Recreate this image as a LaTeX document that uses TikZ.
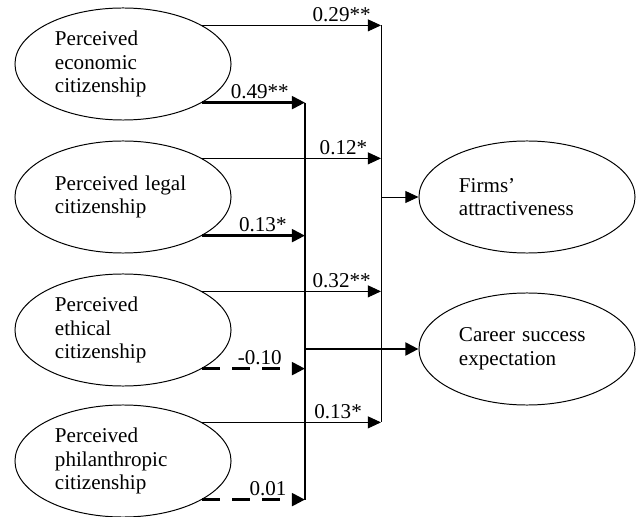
\documentclass[tikz,border=0pt]{standalone}
\usepackage{fontspec}
\setmainfont{Liberation Serif}
\usepackage{tikz}
\usetikzlibrary{shapes.geometric,arrows.meta}

\tikzset{
  construct/.style={draw, ellipse, line width=0.7pt, minimum width=5.4cm, minimum height=2.8cm,
    inner sep=0pt, text width=3.4cm, align=left, font=\fontsize{15}{16.8}\selectfont},
  coef/.style={anchor=base, inner sep=0pt, yshift=0.1cm, font=\fontsize{15}{16.7}\selectfont},
  thinarr/.style={line width=0.7pt, -{Triangle[length=0.33cm, width=0.3cm]}},
  thickarr/.style={line width=2.1pt, -{Triangle[length=0.33cm, width=0.32cm]}},
  negarr/.style={thickarr, dash pattern=on 0.45cm off 0.3cm},
}

\begin{document}
\begin{tikzpicture}[x=0.025cm, y=-0.025cm]
  \useasboundingbox (0,0) rectangle (636,517);

  % Perceived citizenship dimensions
  \node[construct] (eco) at (123,64) {Perceived\\economic\\citizenship};
  \node[construct] (leg) at (123,197) {Perceived legal\\citizenship};
  \node[construct] (eth) at (123,330) {Perceived\\ethical\\citizenship};
  \node[construct] (phi) at (123,461) {Perceived\\philanthropic\\citizenship};

  % Outcomes
  \node[construct] (firms) at (527,197) {Firms'\\attractiveness};
  \node[construct] (career) at (527,349) {Career success\\expectation};

  % Collector lines
  \coordinate (busF) at (381,26);
  \coordinate (busA) at (305,103);

  % Paths to firms' attractiveness
  \draw[thinarr] (eco.26) -- (eco.26 -| busF) node[coef, pos=.78] (c1) {0.29**};
  \draw[thinarr] (leg.26) -- (leg.26 -| busF) node[coef, pos=.79] (c3) {0.12*};
  \draw[thinarr] (eth.26) -- (eth.26 -| busF) node[coef, pos=.78] (c5) {0.32**};
  \draw[thinarr] (phi.26) -- (phi.26 -| busF) node[coef, pos=.76] (c7) {0.13*};
  \draw[line width=0.7pt] (eco.26 -| busF) -- (phi.26 -| busF);
  \draw[thinarr] (busF |- firms) -- (firms.west);

  % Paths to career success expectation
  \draw[thickarr] (eco.-26) -- (eco.-26 -| busA) node[coef, pos=.56] (c2) {0.49**};
  \draw[thickarr] (leg.-26) -- (leg.-26 -| busA) node[coef, pos=.59] (c4) {0.13*};
  \draw[negarr] (eth.-26) -- (eth.-26 -| busA) node[coef, pos=.56] (c6) {-0.10};
  \draw[negarr] (phi.-26) -- (phi.-26 -| busA) node[coef, pos=.64] (c8) {0.01};
  \draw[line width=1.7pt] (eco.-26 -| busA) -- (phi.-26 -| busA);
  \draw[thickarr] (busA |- career) -- (career.west);
\end{tikzpicture}
\end{document}
